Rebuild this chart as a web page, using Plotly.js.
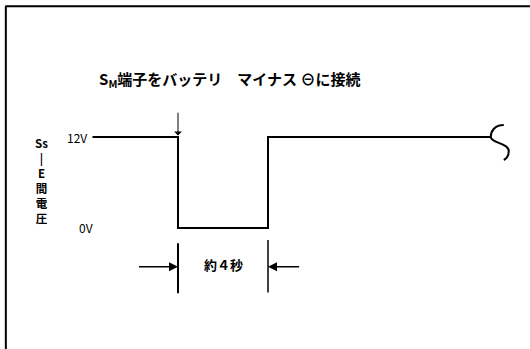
<!DOCTYPE html>
<html>
<head>
<meta charset="utf-8">
<script src="https://cdn.plot.ly/plotly-3.0.1.min.js"></script>
<style>
  body { margin: 0; background: #fff; }
  #root { width: 530px; height: 349px; }
</style>
</head>
<body>
<div id="root"></div>
<script>
// Ss-E voltage waveform: time in seconds (0 = SM terminal grounded), volts
const times = [-3.8, 0, 0, 4, 4, 13.9];
const volts = [12, 12, 0, 0, 12, 12];
const levelLabels = ['12V', '0V'];
const levelValues = [12, 0];
const pulseLabel = '約４秒';
const eventLabel = 'S<sub>M</sub>端子をバッテリ　マイナス ⊖に接続';
const axisLabel = ['Ss', '|', 'E', '間', '電', '圧'];

const FONT = '"Noto Sans CJK JP", "Noto Sans", sans-serif';
const pulseStart = times[1];
const pulseEnd = times[3];
const lastT = times[times.length - 1];
const lastV = volts[volts.length - 1];

const X_RANGE = [-7.911, 15.644];
const Y_RANGE = [-15.96, 30.07];
const W = 530, H = 349;
const pxX = W / (X_RANGE[1] - X_RANGE[0]);
const pxY = H / (Y_RANGE[1] - Y_RANGE[0]);

var data = [{
    x: times,
    y: volts,
    mode: 'lines',
    type: 'scatter',
    line: { color: '#000', width: 2 },
    hoverinfo: 'skip'
}];

var annotations = [];

// level labels on the left
annotations.push({ x: -3.95, y: levelValues[0], xref: 'x', yref: 'y', text: levelLabels[0],
    showarrow: false, xanchor: 'right', font: { family: FONT, size: 12, color: '#000' } });
annotations.push({ x: -3.7, y: levelValues[1], xref: 'x', yref: 'y', text: levelLabels[1],
    showarrow: false, xanchor: 'right', font: { family: FONT, size: 12, color: '#000' } });

// vertical axis caption "Ss - E 間電圧", one character per line
annotations.push({ x: -6.05, y: 6.33, xref: 'x', yref: 'y', text: axisLabel.join('<br>'),
    showarrow: false, align: 'center',
    font: { family: FONT, size: 11.5, color: '#000', weight: 'bold' } });

// event arrow and caption
annotations.push({ x: pulseStart, y: 12.2, xref: 'x', yref: 'y',
    ax: pulseStart, ay: 15.4, axref: 'x', ayref: 'y', text: '',
    showarrow: true, arrowhead: 1, arrowwidth: 1, arrowsize: 1.3, arrowcolor: '#000' });
annotations.push({ x: 2.3, y: 19.6, xref: 'x', yref: 'y', text: eventLabel,
    showarrow: false, font: { family: FONT, size: 15, color: '#000', weight: 'bold' } });

// duration dimension arrows
annotations.push({ x: pulseStart, y: -5.1, xref: 'x', yref: 'y',
    ax: pulseStart - 1.8, ay: -5.1, axref: 'x', ayref: 'y', text: '',
    showarrow: true, arrowhead: 2, arrowwidth: 1.5, arrowsize: 1.2, arrowcolor: '#000' });
annotations.push({ x: pulseEnd, y: -5.1, xref: 'x', yref: 'y',
    ax: pulseEnd + 1.45, ay: -5.1, axref: 'x', ayref: 'y', text: '',
    showarrow: true, arrowhead: 2, arrowwidth: 1.5, arrowsize: 1.2, arrowcolor: '#000' });
annotations.push({ x: (pulseStart + pulseEnd) / 2, y: -4.8, xref: 'x', yref: 'y', text: pulseLabel,
    showarrow: false, font: { family: FONT, size: 13, color: '#000', weight: 'bold' } });

// break mark: pixel offsets (right, up) from the end of the trace -> data units
function pt(dx, dy) {
    return (lastT + dx / pxX).toFixed(4) + ',' + (lastV + dy / pxY).toFixed(4);
}
var breakPath = 'M ' + pt(13, 12) +
    ' C ' + pt(4, 12) + ' ' + pt(0, 6) + ' ' + pt(0, 0) +
    ' C ' + pt(0, -6) + ' ' + pt(18, -6) + ' ' + pt(18, -14) +
    ' C ' + pt(18, -19) + ' ' + pt(15, -22) + ' ' + pt(13, -23);

var shapes = [
    // frame (top and left edges of the scanned box)
    { type: 'line', xref: 'paper', yref: 'paper', x0: 0.01, x1: 1, y0: 0.982, y1: 0.982,
      line: { color: '#000', width: 2 } },
    { type: 'line', xref: 'paper', yref: 'paper', x0: 0.011, x1: 0.011, y0: 0, y1: 0.982,
      line: { color: '#000', width: 2 } },
    // extension lines of the dimension
    { type: 'line', xref: 'x', yref: 'y', x0: pulseStart, x1: pulseStart, y0: -2, y1: -8.6,
      line: { color: '#000', width: 2 } },
    { type: 'line', xref: 'x', yref: 'y', x0: pulseEnd, x1: pulseEnd, y0: -1.6, y1: -8.5,
      line: { color: '#000', width: 1.5 } },
    { type: 'path', xref: 'x', yref: 'y', path: breakPath,
      line: { color: '#000', width: 2 } }
];

var layout = {
    width: W,
    height: H,
    margin: { l: 0, r: 0, t: 0, b: 0 },
    paper_bgcolor: '#fff',
    plot_bgcolor: '#fff',
    showlegend: false,
    xaxis: { range: X_RANGE, visible: false, fixedrange: true },
    yaxis: { range: Y_RANGE, visible: false, fixedrange: true },
    annotations: annotations,
    shapes: shapes
};

Plotly.newPlot('root', data, layout, { staticPlot: true });
</script>
</body>
</html>
